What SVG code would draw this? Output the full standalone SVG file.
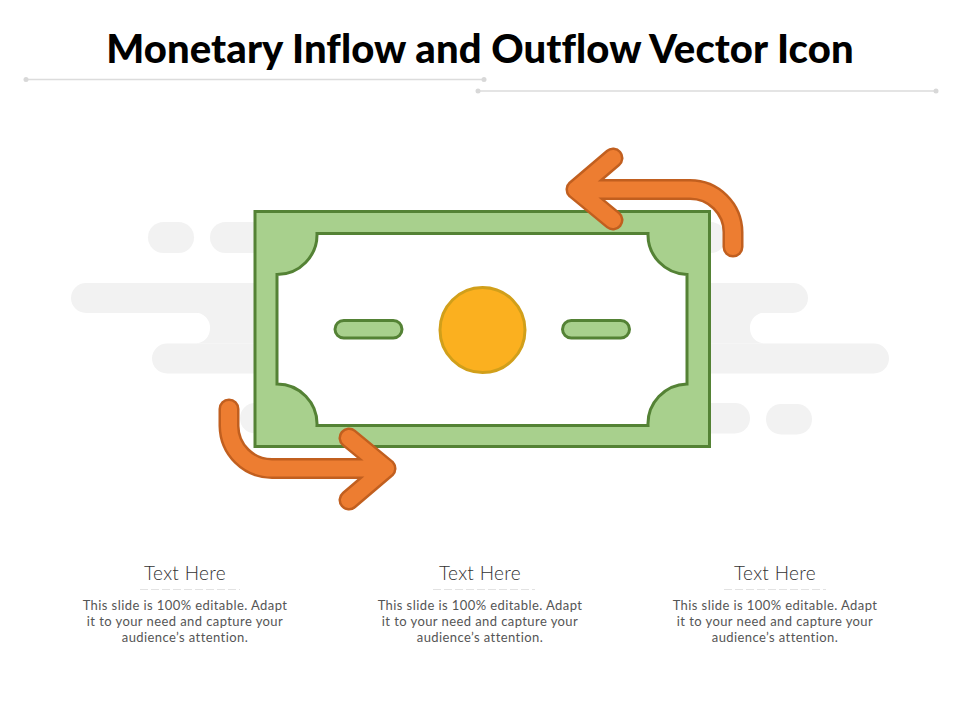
<svg xmlns="http://www.w3.org/2000/svg" width="960" height="720" viewBox="0 0 960 720">
<style>
.t{font-family:"Lato","Liberation Sans",sans-serif;text-anchor:middle}
.title{font-size:40px;font-weight:900;fill:#000;letter-spacing:.1px}
.h{font-size:19px;font-weight:300;fill:#333;letter-spacing:.3px}
.b{font-size:13px;font-weight:400;fill:#555;letter-spacing:.42px}
.rule{stroke:#dcdcdc;stroke-width:1.5;fill:none}
.dot{fill:#d8d8d8}
.bg{fill:#f2f2f2}
.g{fill:#a8d08d;stroke:#548235;stroke-width:3}
.ao{fill:none;stroke:#c15f1f;stroke-width:21;stroke-linecap:round;stroke-linejoin:round}
.ai{fill:none;stroke:#ed7d31;stroke-width:16;stroke-linecap:round;stroke-linejoin:round}
</style>
<rect width="960" height="720" fill="#fff"/>
<g id="title"><text class="t title" x="480" y="63">Monetary Inflow and Outflow Vector Icon</text></g>
<g id="rules">
<path class="rule" d="M26 79.500H484M478 91H936"/>
<circle class="dot" cx="26" cy="79.500" r="2.500"/><circle class="dot" cx="484" cy="79.500" r="2.500"/>
<circle class="dot" cx="478" cy="91" r="2.500"/><circle class="dot" cx="936" cy="91" r="2.500"/>
</g>
<g id="background">
<rect class="bg" x="148" y="222" width="46" height="31" rx="15.500"/>
<rect class="bg" x="210" y="222" width="516" height="31" rx="15.500"/>
<rect class="bg" x="71" y="283" width="737" height="30" rx="15"/>
<rect class="bg" x="152" y="343.500" width="737" height="30" rx="15"/>
<path class="bg" d="M195 312.500A15 15 0 0 1 210 328A15 15 0 0 1 195 343.500H765A15 15 0 0 1 750 328A15 15 0 0 1 765 312.500Z"/>
<rect class="bg" x="240" y="403" width="510" height="30.500" rx="15"/>
<rect class="bg" x="766" y="404" width="46" height="30.500" rx="15"/>
</g>
<g id="bill">
<rect class="g" x="255" y="211.500" width="454.500" height="235"/>
<path d="M317 233.500H648A40 40 0 0 0 687 274.500V384A40 40 0 0 0 648 425.500H317A40 40 0 0 0 277 384V274.500A40 40 0 0 0 317 233.500Z" fill="#fff" stroke="#548235" stroke-width="3"/>
<rect class="g" x="335" y="320.500" width="67" height="17.500" rx="8.750"/>
<rect class="g" x="562.500" y="320.500" width="67" height="17.500" rx="8.750"/>
<circle cx="482.500" cy="330" r="42.500" fill="#fbb01f" stroke="#d19f1a" stroke-width="3"/>
</g>
<g id="connectors">
<g id="arrow-top">
<path class="ao" d="M733 247V232A43 43 0 0 0 690 189.500H576M613 158L576 189.500L613 220"/>
<path class="ai" d="M733 247V232A43 43 0 0 0 690 189.500H576M613 158L576 189.500L613 220"/>
</g>
<g id="arrow-bottom">
<path class="ao" d="M229 409V426A43 43 0 0 0 272 468.500H386M349 500L386 468.500L349 438"/>
<path class="ai" d="M229 409V426A43 43 0 0 0 272 468.500H386M349 500L386 468.500L349 438"/>
</g>
</g>
<g id="col1">
<text class="t h" x="185" y="580">Text Here</text>
<path d="M140 589.500H240" stroke="#e2e2e2" stroke-width="1" stroke-dasharray="8 3"/>
<text class="t b" x="185" y="610">This slide is 100% editable.  Adapt</text>
<text class="t b" x="185" y="626">it to your need and capture your</text>
<text class="t b" x="185" y="642">audience’s attention.</text>
</g>
<g id="col2">
<text class="t h" x="480" y="580">Text Here</text>
<path d="M433 589.500H535" stroke="#e2e2e2" stroke-width="1" stroke-dasharray="8 3"/>
<text class="t b" x="480" y="610">This slide is 100% editable.  Adapt</text>
<text class="t b" x="480" y="626">it to your need and capture your</text>
<text class="t b" x="480" y="642">audience’s attention.</text>
</g>
<g id="col3">
<text class="t h" x="775" y="580">Text Here</text>
<path d="M724 589.500H826" stroke="#e2e2e2" stroke-width="1" stroke-dasharray="8 3"/>
<text class="t b" x="775" y="610">This slide is 100% editable.  Adapt</text>
<text class="t b" x="775" y="626">it to your need and capture your</text>
<text class="t b" x="775" y="642">audience’s attention.</text>
</g>
</svg>
